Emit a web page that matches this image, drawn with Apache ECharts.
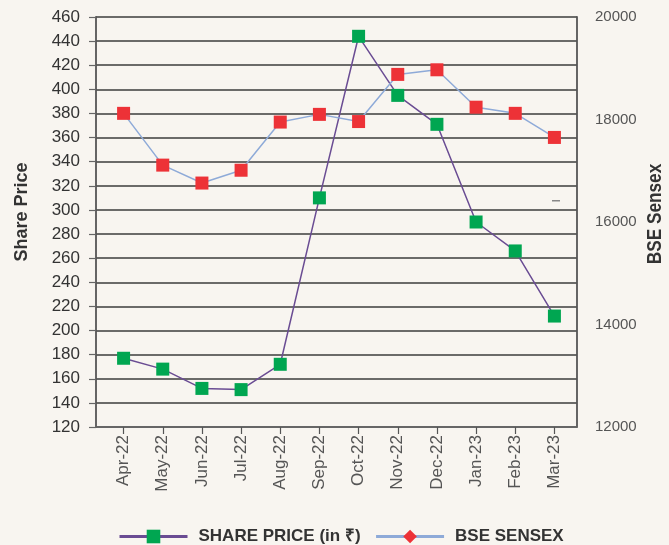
<!DOCTYPE html>
<html>
<head>
<meta charset="utf-8">
<script src="https://cdn.jsdelivr.net/npm/echarts@6/dist/echarts.min.js"></script>
<style>
  html, body { margin: 0; padding: 0; background: #f8f5f0; }
  #chart { width: 669px; height: 545px; }
</style>
</head>
<body>
<div id="chart"></div>
<script>
// months on the x axis
var months = ['Apr-22', 'May-22', 'Jun-22', 'Jul-22', 'Aug-22', 'Sep-22', 'Oct-22', 'Nov-22', 'Dec-22', 'Jan-23', 'Feb-23', 'Mar-23'];
// share price (in rupees), left axis
var sharePrice = [177, 168, 152, 151, 172, 310, 444, 395, 371, 290, 266, 212];
// BSE sensex, right axis
var sensex = [18120, 17110, 16760, 17010, 17950, 18100, 17960, 18880, 18970, 18240, 18120, 17650];

var regular = "'Liberation Sans', Arial, sans-serif";

var chart = echarts.init(document.getElementById('chart'));
var option = {
  backgroundColor: '#f8f5f0',
  animation: false,
  grid: [
    { left: 96, right: 92, top: 17, bottom: 118 },   // frame + gridlines
    { left: 104, right: 95, top: 17, bottom: 118 }   // where the points sit
  ],
  xAxis: [
    {
      gridIndex: 0, type: 'value', min: 0, max: 1,
      axisLine: { show: true, lineStyle: { color: '#666', width: 1.5 } },
      axisTick: { show: false }, axisLabel: { show: false }, splitLine: { show: false }
    },
    {
      gridIndex: 1, type: 'category', data: months, boundaryGap: true,
      axisLine: { show: false },
      axisTick: { show: true, alignWithLabel: true, length: 7, lineStyle: { color: '#555', width: 1.2 } },
      axisLabel: { rotate: 90, margin: 8, color: '#555', fontSize: 17, fontFamily: regular },
      splitLine: { show: false }
    }
  ],
  yAxis: [
    {
      gridIndex: 0, type: 'value', min: 120, max: 460, interval: 20, position: 'left',
      axisLine: { show: true, lineStyle: { color: '#555', width: 1.8 } },
      axisTick: { show: true, length: 7, lineStyle: { color: '#666', width: 1.2 } },
      axisLabel: { margin: 16, color: '#333', fontSize: 17, fontFamily: regular },
      splitLine: { show: true, lineStyle: { color: '#3d3d3d', width: 1.5 } }
    },
    {
      gridIndex: 0, type: 'value', min: 12000, max: 20000, interval: 2000, position: 'right',
      axisLine: { show: true, lineStyle: { color: '#555', width: 1.8 } },
      axisTick: { show: false },
      axisLabel: { margin: 18, color: '#555', fontSize: 15, fontFamily: regular,
        formatter: function (v) { return String(v); } },
      splitLine: { show: false }
    },
    { gridIndex: 1, type: 'value', min: 120, max: 460, show: false },
    { gridIndex: 1, type: 'value', min: 12000, max: 20000, show: false }
  ],
  legend: {
    left: 113, top: 523,
    itemWidth: 68, itemHeight: 17, itemGap: 14,
    selectedMode: false,
    lineStyle: { width: 3 },
    textStyle: { color: '#333', fontSize: 17, fontWeight: 'bold', fontFamily: regular, padding: [0, 0, 0, 6] },
    data: ['SHARE PRICE (in ₹)', 'BSE SENSEX']
  },
  series: [
    {
      name: 'SHARE PRICE (in ₹)',
      type: 'line',
      xAxisIndex: 1, yAxisIndex: 2,
      data: sharePrice,
      symbol: 'rect', symbolSize: 13,
      itemStyle: { color: '#00a651' },
      lineStyle: { color: '#6a4c93', width: 1.5 },
      z: 3
    },
    {
      name: 'BSE SENSEX',
      type: 'line',
      xAxisIndex: 1, yAxisIndex: 3,
      // series symbol drives the legend icon, points use squares
      symbol: 'diamond',
      data: sensex.map(function (v) { return { value: v, symbol: 'rect' }; }),
      symbolSize: 13,
      itemStyle: { color: '#ed3237' },
      lineStyle: { color: '#8eaad8', width: 1.5 },
      z: 4
    }
  ],
  graphic: [
    {
      type: 'text', x: 22, y: 212, rotation: Math.PI / 2,
      style: { text: 'Share Price', font: 'bold 18px ' + regular, fill: '#333', align: 'center', verticalAlign: 'middle' }
    },
    {
      type: 'text', x: 655, y: 214, rotation: Math.PI / 2, scaleX: 0.82,
      style: { text: 'BSE Sensex', font: 'bold 21px ' + regular, fill: '#333', align: 'center', verticalAlign: 'middle' }
    },
    {
      type: 'rect', shape: { x: 552, y: 200, width: 8, height: 1.5 },
      style: { fill: '#888' }
    }
  ]
};
chart.setOption(option);
</script>
</body>
</html>
